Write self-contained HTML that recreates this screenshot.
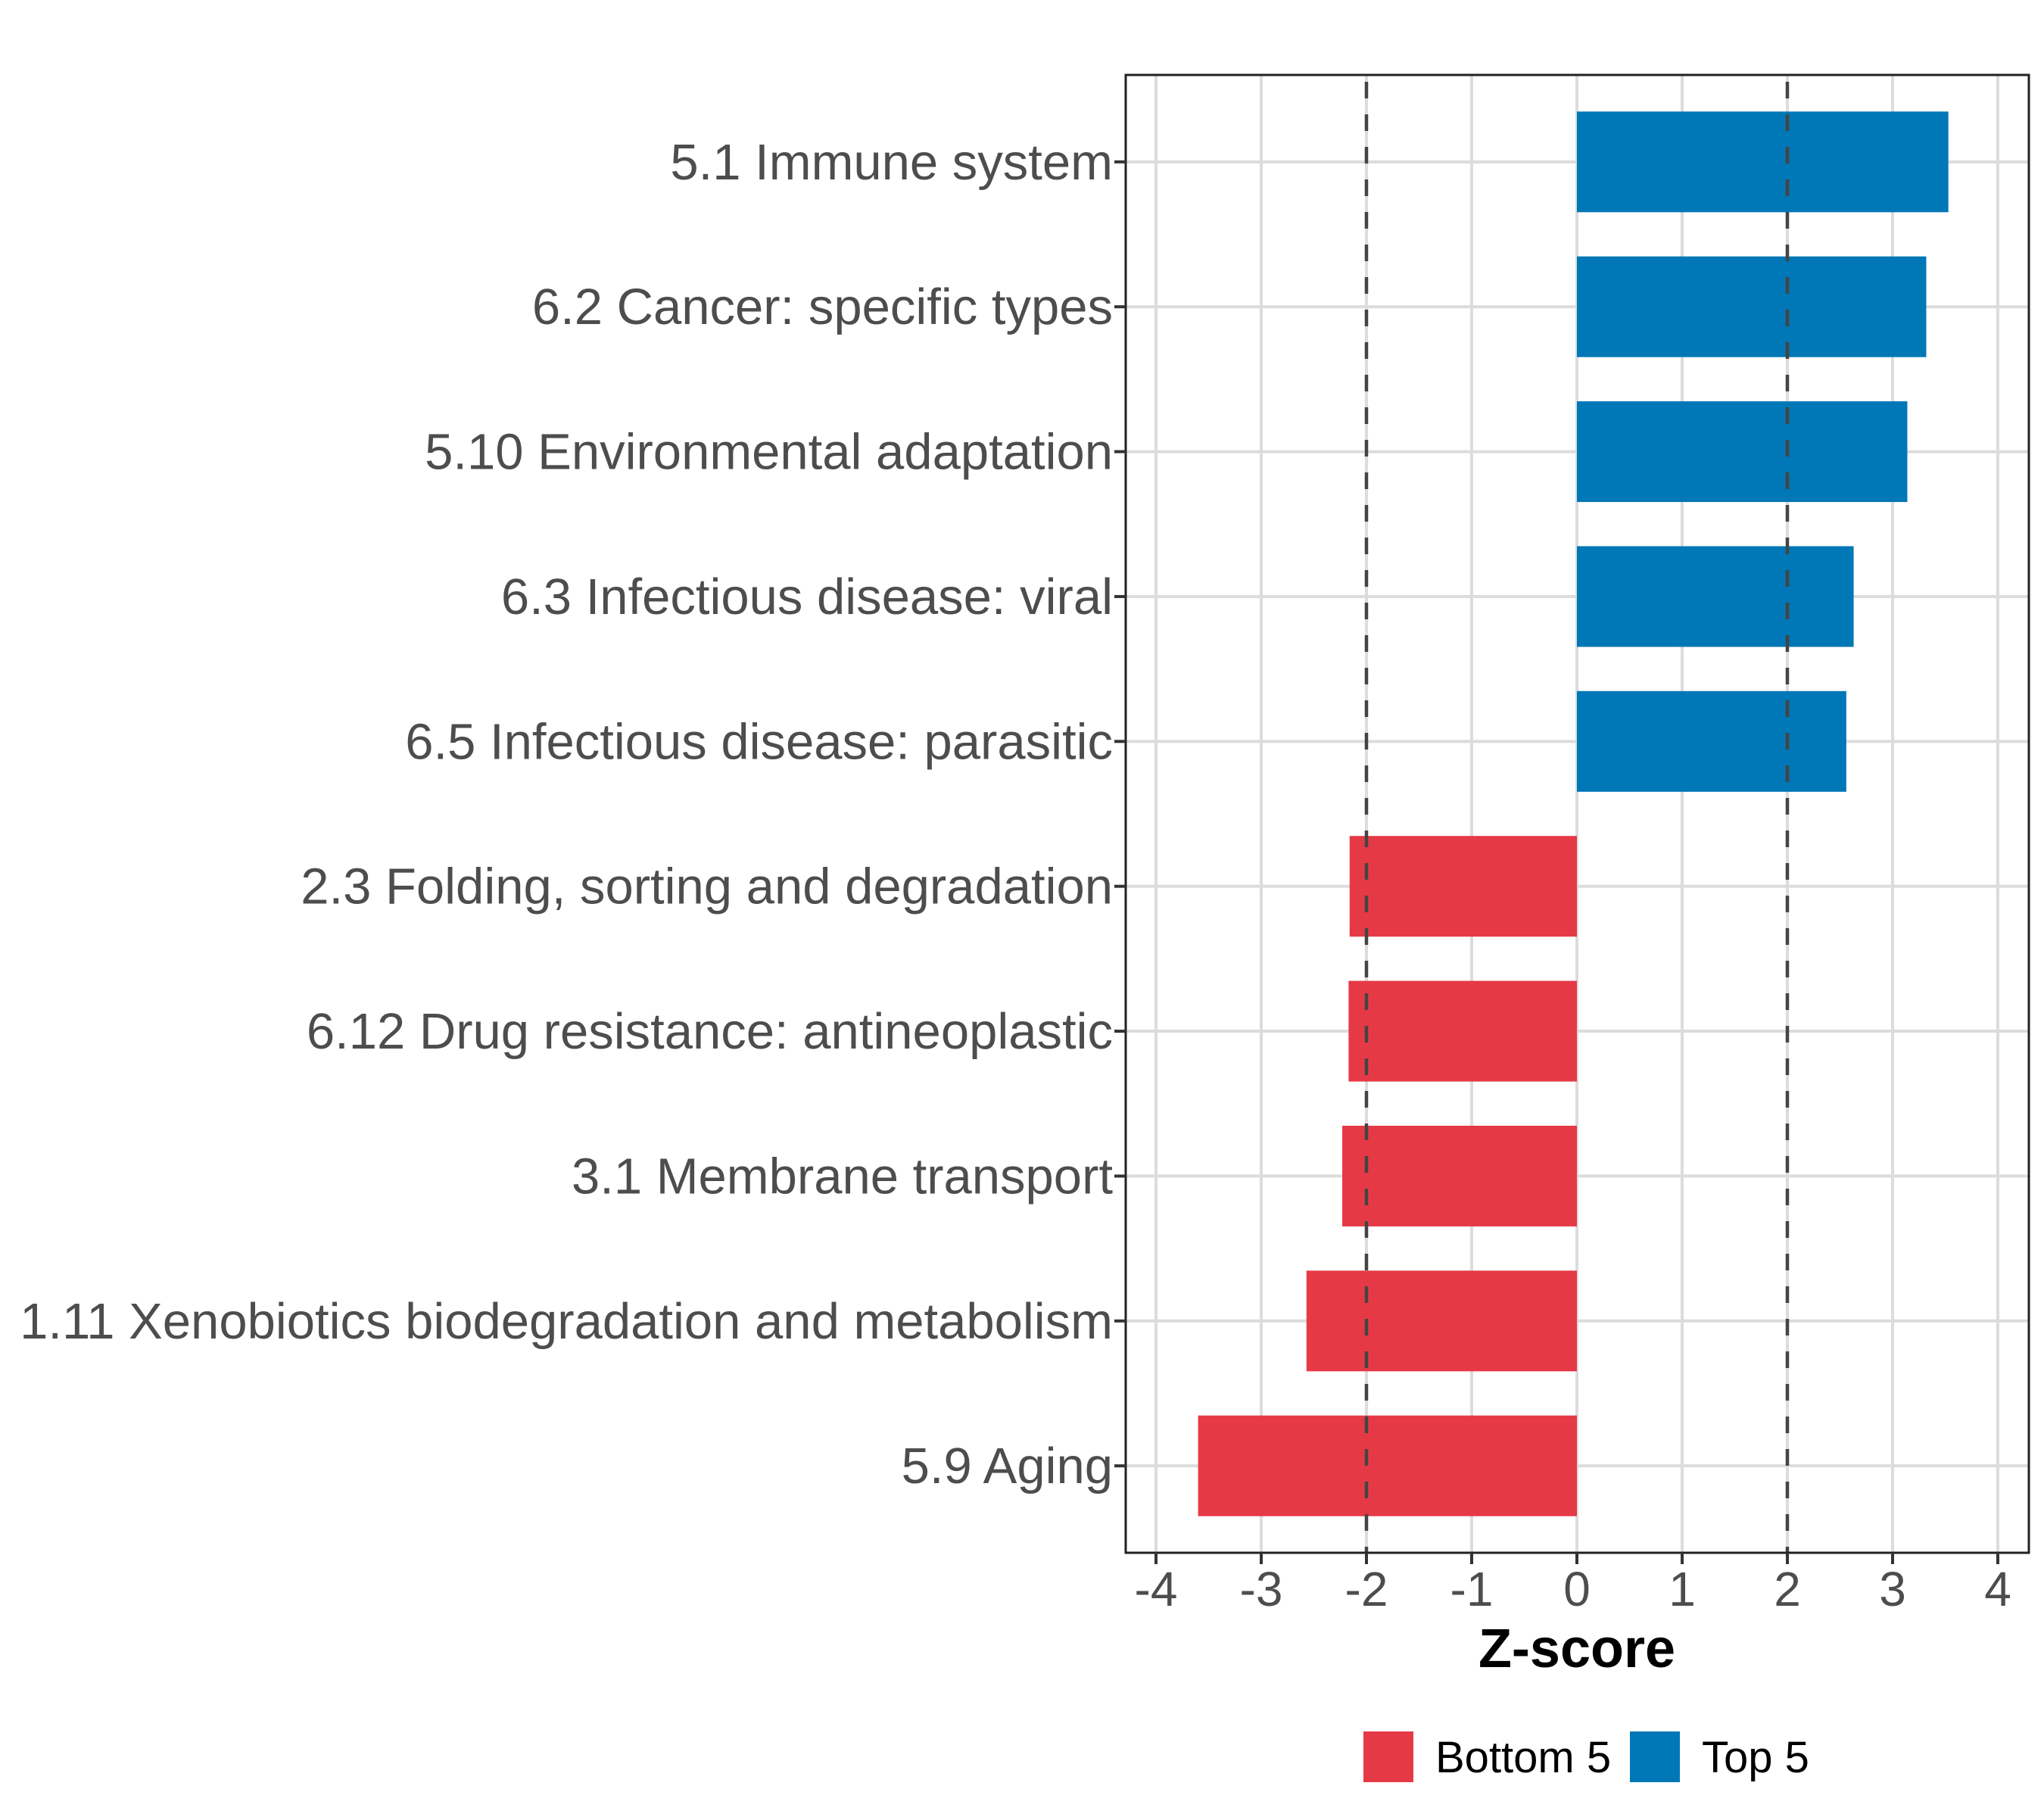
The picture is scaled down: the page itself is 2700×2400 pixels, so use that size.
<!DOCTYPE html>
<html><head><meta charset="utf-8"><style>html,body{margin:0;padding:0;background:#fff}svg{display:block}</style></head>
<body>
<svg id="chart" width="2700" height="2400" xmlns="http://www.w3.org/2000/svg" font-family="Liberation Sans, Arial, sans-serif"></svg>
<script>
const categories = ["5.1 Immune system","6.2 Cancer: specific types","5.10 Environmental adaptation","6.3 Infectious disease: viral","6.5 Infectious disease: parasitic","2.3 Folding, sorting and degradation","6.12 Drug resistance: antineoplastic","3.1 Membrane transport","1.11 Xenobiotics biodegradation and metabolism","5.9 Aging"];
const zscores = [3.53, 3.32, 3.14, 2.63, 2.56, -2.16, -2.17, -2.23, -2.57, -3.60];
const groups = ["Top 5","Top 5","Top 5","Top 5","Top 5","Bottom 5","Bottom 5","Bottom 5","Bottom 5","Bottom 5"];
const xTicks = [-4,-3,-2,-1,0,1,2,3,4];
const thresholds = [-2, 2];
const legendLabels = ["Bottom 5","Top 5"];

const NS = "http://www.w3.org/2000/svg";
const svg = document.getElementById("chart");
const L = 1487, R = 2680, T = 99, B = 2051;
const colors = {"Bottom 5":"#E63946","Top 5":"#0077B6"};
const x = v => 2083 + v * 139;
const step = (B - T) / (categories.length + 0.2);
const y = i => T + step * (0.6 + i);
const barH = 133;
function mk(tag, attrs, parent) {
  const e = document.createElementNS(NS, tag);
  for (const k in attrs) e.setAttribute(k, attrs[k]);
  (parent || svg).appendChild(e);
  return e;
}
xTicks.forEach(t => {
  const g = mk("line", {x1:x(t), x2:x(t), y1:T, y2:B, stroke:"#dcdcdc", "stroke-width":4});
  
  
});
categories.forEach((c, i) => {
  const g = mk("line", {x1:L, x2:R, y1:y(i), y2:y(i), stroke:"#dcdcdc", "stroke-width":4});
  
  
});
categories.forEach((c, i) => {
  const v = zscores[i];
  const r = mk("rect", {x:Math.min(x(0), x(v)), y:y(i) - barH/2, width:Math.abs(x(v) - x(0)), height:barH, fill:colors[groups[i]]});
  
  
});
thresholds.forEach(t => {
  const d = mk("line", {x1:x(t), x2:x(t), y1:T, y2:B, stroke:"#444", "stroke-width":4.5, "stroke-dasharray":"22 21", "stroke-dashoffset":"-9"});
  
  
});
const border = mk("rect", {x:L, y:T, width:R-L, height:B-T, fill:"none", stroke:"#222", "stroke-width":3});


categories.forEach((c, i) => {
  const tk = mk("line", {x1:L-15, x2:L, y1:y(i), y2:y(i), stroke:"#333", "stroke-width":4});
  
  
  const t = mk("text", {x:L-17, y:y(i) + 23, "text-anchor":"end", "font-size":67, fill:"#4d4d4d"});
  t.textContent = c;
  
  
});
xTicks.forEach(v => {
  const tk = mk("line", {x1:x(v), x2:x(v), y1:B, y2:B+15, stroke:"#333", "stroke-width":4});
  
  
  const t = mk("text", {x:x(v), y:2121, "text-anchor":"middle", "font-size":64, fill:"#4d4d4d"});
  t.textContent = String(v);
  
  
});
const xt = mk("text", {x:2083, y:2202, "text-anchor":"middle", "font-size":72, "font-weight":"bold", fill:"#000"});
xt.textContent = "Z-score";


const legX = [1807, 2159];
legendLabels.forEach((lab, i) => {
  const s = mk("rect", {x:legX[i]-6, y:2287, width:66, height:67, fill:colors[lab]});
  
  
  const t = mk("text", {x:legX[i] + 89, y:2341, "font-size":58, fill:"#000"});
  t.textContent = lab;
  
  
});
</script>
</body></html>
